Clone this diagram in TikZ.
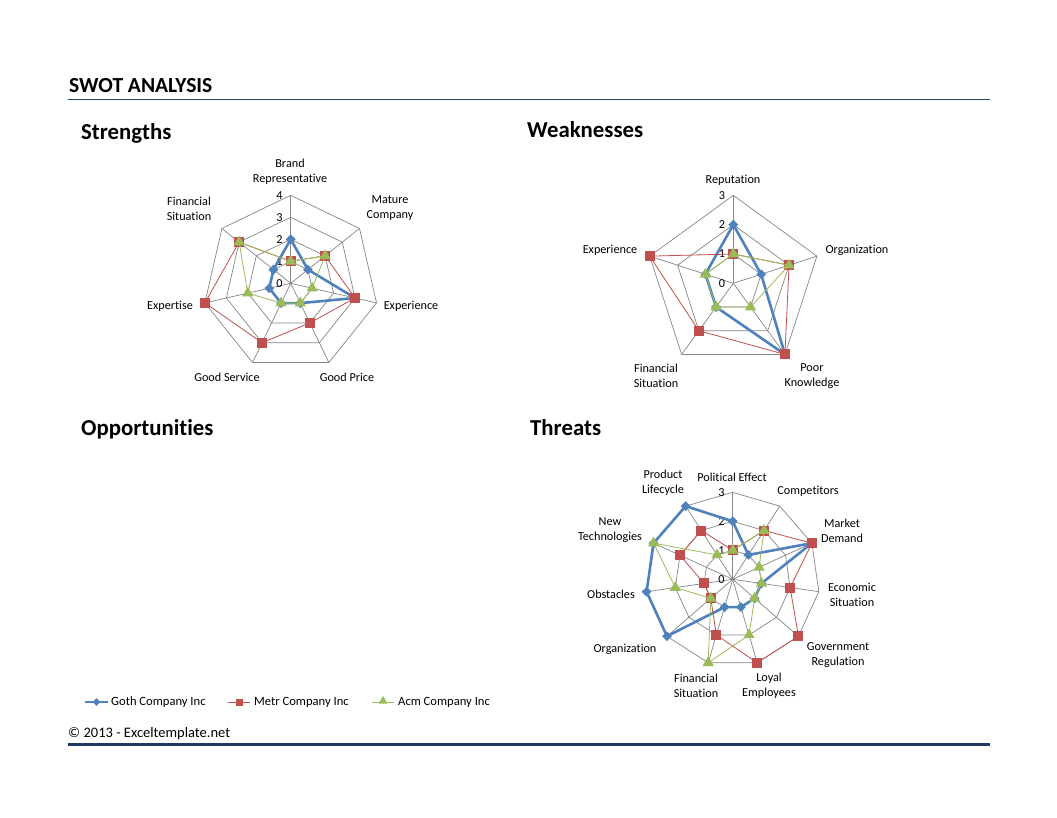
\documentclass[tikz,border=0pt]{standalone}
\usepackage{fontspec}
\setmainfont{Carlito}[Ligatures=NoCommon]
\usetikzlibrary{shapes.geometric}
\definecolor{gothblue}{HTML}{4F81BD}
\definecolor{metrred}{HTML}{C0504D}
\definecolor{acmgreen}{HTML}{9BBB59}
\definecolor{webgray}{HTML}{868686}
\definecolor{rulenavy}{HTML}{1F3864}
\tikzset{
  line join=round,
}
\tikzstyle{spoke}=[webgray,line width=0.7pt]
\tikzstyle{goth}=[gothblue,line width=2.6pt]
\tikzstyle{metr}=[metrred,line width=0.8pt]
\tikzstyle{acm}=[acmgreen,line width=0.8pt]
\tikzstyle{gothmark}=[diamond,fill=gothblue,inner sep=0pt,minimum size=10pt]
\tikzstyle{metrmark}=[rectangle,fill=metrred,inner sep=0pt,minimum size=10pt]
\tikzstyle{acmmark}=[regular polygon,regular polygon sides=3,fill=acmgreen,inner sep=0pt,minimum size=13pt]
\tikzstyle{catlabel}=[font=\fontsize{12.2}{15}\selectfont,align=center,inner sep=0pt]
\tikzstyle{ticklabel}=[font=\fontsize{12.2}{13}\selectfont,anchor=east,inner sep=0pt]
\tikzstyle{heading}=[font=\bfseries\fontsize{22.8}{26}\selectfont,anchor=west,inner sep=0pt]
\tikzstyle{every node}=[text=black]

% web of a radar chart: #1 spokes, #2 levels, #3 unit, #4 name
\newcommand{\radarweb}[4]{%
  \foreach \k in {1,...,#2}
    \draw[spoke] (90:{\k*#3}) \foreach \i in {1,...,#1}{ -- ({90-\i*360/#1}:{\k*#3})} -- cycle;
  \foreach \i in {1,...,#1}
    \draw[spoke] (0,0) -- ({90-\i*360/#1}:{#2*#3});
  \foreach \k in {0,...,#2}
    \node[ticklabel] (#4\k) at (-8,{\k*#3}) {\k};
}
% one series: #1 name, #2 spokes, #3 unit, #4 style, #5 values
\newcommand{\radarseries}[5]{%
  \foreach \v [count=\i] in {#5}
    \coordinate (#1\i) at ({90-(\i-1)*360/#2}:{\v*#3});
  \draw[#4] (#11) \foreach \i in {2,...,#2}{ -- (#1\i)} -- cycle;
  \foreach \i in {1,...,#2}
    \node[#4mark] at (#1\i) {};
}

\begin{document}
\begin{tikzpicture}[x=1pt,y=-1pt]
  \useasboundingbox (0,0) rectangle (1057,817);
  \fill[white] (0,0) rectangle (1057,817);

  % header
  \node[heading,font=\bfseries\fontsize{21.5}{24}\selectfont] (title) at (69,86) {SWOT ANALYSIS};
  \coordinate (hdl) at (68,99.5);
  \coordinate (hdr) at (990,99.5);
  \draw[rulenavy!85!gray,line width=1pt] (hdl) -- (hdr);

  \node[heading] (strengths) at (81,133) {Strengths};
  \node[heading] (weaknesses) at (527,130) {Weaknesses};
  \node[heading] (opportunities) at (81,429) {Opportunities};
  \node[heading] (threats) at (530,428) {Threats};

  % strengths
  \begin{scope}[shift={(290.7,283.3)},yscale=-1]
    \radarweb{7}{4}{22}{st}
    \radarseries{sg}{7}{22}{goth}{2,1,3,1,1,1,1}
    \radarseries{sm}{7}{22}{metr}{1,2,3,2,3,4,3}
    \radarseries{sa}{7}{22}{acm}{1,2,1,1,1,2,3}
  \end{scope}
  \node[catlabel] (brand) at (290,171.5) {Brand\\Representative};
  \node[catlabel] (mature) at (390,208.5) {Mature\\Company};
  \node[catlabel] (sexp) at (411,306) {Experience};
  \node[catlabel] (price) at (347,377) {Good Price};
  \node[catlabel] (service) at (227,377) {Good Service};
  \node[catlabel] (expertise) at (170,306) {Expertise};
  \node[catlabel] (sfin) at (189,208.5) {Financial\\Situation};

  % weaknesses
  \begin{scope}[shift={(733.3,283.3)},yscale=-1]
    \radarweb{5}{3}{29.3}{wk}
    \radarseries{wg}{5}{29.3}{goth}{2,1,3,1,1}
    \radarseries{wm}{5}{29.3}{metr}{1,2,3,2,3}
    \radarseries{wa}{5}{29.3}{acm}{1,2,1,1,1}
  \end{scope}
  \node[catlabel] (reputation) at (733,180) {Reputation};
  \node[catlabel] (worg) at (857,250) {Organization};
  \node[catlabel] (poor) at (812,376) {Poor\\Knowledge};
  \node[catlabel] (wfin) at (656,376) {Financial\\Situation};
  \node[catlabel] (wexp) at (610,250) {Experience};

  % threats
  \begin{scope}[shift={(732.7,579.3)},yscale=-1]
    \radarweb{11}{3}{29}{th}
    \radarseries{tg}{11}{29}{goth}{2,1,3,1,1,1,1,3,3,3,3}
    \radarseries{tm}{11}{29}{metr}{1,2,3,2,3,3,2,1,1,2,2}
    \radarseries{ta}{11}{29}{acm}{1,2,1,1,1,2,3,1,2,3,1}
  \end{scope}
  \node[catlabel] (political) at (732,477) {Political Effect};
  \node[catlabel] (competitors) at (808,491) {Competitors};
  \node[catlabel] (market) at (842,530.5) {Market\\Demand};
  \node[catlabel] (economic) at (852,595) {Economic\\Situation};
  \node[catlabel] (government) at (838,655.5) {Government\\Regulation};
  \node[catlabel] (loyal) at (769,685.5) {Loyal\\Employees};
  \node[catlabel] (tfin) at (696,685.5) {Financial\\Situation};
  \node[catlabel] (torg) at (625,649) {Organization};
  \node[catlabel] (obstacles) at (611,594) {Obstacles};
  \node[catlabel] (newtech) at (610,530.5) {New\\Technologies};
  \node[catlabel] (lifecycle) at (663,482.5) {Product\\Lifecycle};

  % legend
  \coordinate (lga) at (85,702);
  \coordinate (lgb) at (108,702);
  \draw[goth,line width=2pt] (lga) -- (lgb);
  \node[gothmark,minimum size=8pt] at (96.5,702) {};
  \node[catlabel,anchor=west,font=\fontsize{12.6}{15}\selectfont] (goth) at (111,702) {Goth Company Inc};
  \coordinate (lma) at (228,702);
  \coordinate (lmb) at (250,702);
  \draw[metr] (lma) -- (lmb);
  \node[metrmark,minimum size=7pt] at (239,702) {};
  \node[catlabel,anchor=west,font=\fontsize{12.6}{15}\selectfont] (metr) at (254,702) {Metr Company Inc};
  \coordinate (laa) at (372,702);
  \coordinate (lab) at (394,702);
  \draw[acm] (laa) -- (lab);
  \node[acmmark,minimum size=10pt] at (383,701) {};
  \node[catlabel,anchor=west,font=\fontsize{12.6}{15}\selectfont] (acm) at (398,702) {Acm Company Inc};

  % footer
  \node[catlabel,anchor=west,font=\fontsize{14.5}{17}\selectfont] (copy) at (68,734) {\textcopyright{} 2013 - Exceltemplate.net};
  \coordinate (ftl) at (68,744);
  \coordinate (ftr) at (990,744);
  \draw[rulenavy,line width=3pt] (ftl) -- (ftr);
\end{tikzpicture}
\end{document}
